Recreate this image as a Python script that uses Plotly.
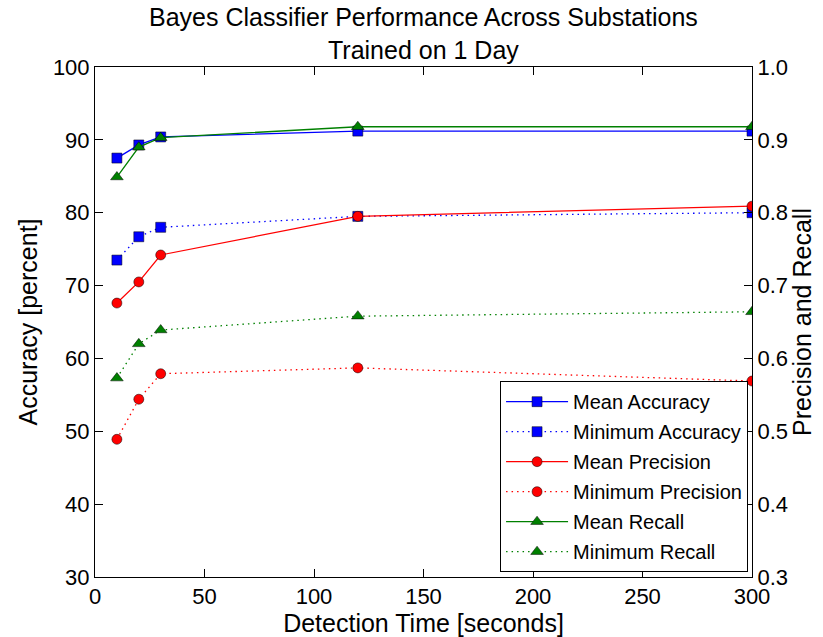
import plotly.graph_objects as go

detection_time = [10, 20, 30, 120, 300]

mean_accuracy = [87.5, 89.3, 90.4, 91.2, 91.2]
min_accuracy = [73.5, 76.7, 78.0, 79.5, 80.0]
mean_precision = [0.676, 0.705, 0.742, 0.795, 0.809]
min_precision = [0.489, 0.544, 0.579, 0.587, 0.569]
mean_recall = [0.849, 0.890, 0.903, 0.918, 0.918]
min_recall = [0.573, 0.620, 0.639, 0.658, 0.664]

BLUE = "#0000ff"
RED = "#ff0000"
GREEN = "#008000"
FONT = "Liberation Sans, Arial, sans-serif"

fig = go.Figure()

def add(name, y, color, symbol, dash, axis):
    fig.add_trace(go.Scatter(
        x=detection_time, y=y, name=name, mode="lines+markers",
        yaxis=axis, legendgroup=name,
        line=dict(color=color, width=1.3, dash=dash),
        marker=dict(symbol=symbol, size=10 if symbol != "triangle-up" else 11,
                    color=color, line=dict(color="black", width=0.5)),
    ))

DOTTED = "1.5px,4px"
add("Mean Accuracy", mean_accuracy, BLUE, "square", "solid", "y")
add("Minimum Accuracy", min_accuracy, BLUE, "square", DOTTED, "y")
add("Mean Precision", mean_precision, RED, "circle", "solid", "y2")
add("Minimum Precision", min_precision, RED, "circle", DOTTED, "y2")
add("Mean Recall", mean_recall, GREEN, "triangle-up", "solid", "y2")
add("Minimum Recall", min_recall, GREEN, "triangle-up", DOTTED, "y2")

axis_common = dict(
    showgrid=False, zeroline=False, showline=True, linecolor="black", linewidth=1,
    ticks="inside", ticklen=8, tickcolor="black", automargin=False,
    tickfont=dict(family=FONT, size=22, color="black"),
)

fig.update_layout(
    width=823, height=637,
    margin=dict(l=95, r=71, t=67, b=60),
    paper_bgcolor="white", plot_bgcolor="white",
    font=dict(family=FONT, color="black"),
    xaxis=dict(range=[0, 300], dtick=50, mirror="ticks", ticklabelstandoff=0,
               title=dict(text="Detection Time [seconds]", font=dict(family=FONT, size=25)),
               **axis_common),
    yaxis=dict(range=[30, 100], dtick=10,
               title=dict(text="Accuracy [percent]", font=dict(family=FONT, size=25), standoff=8),
               **axis_common),
    yaxis2=dict(range=[0.3, 1.0], dtick=0.1, tickformat=".1f", overlaying="y", side="right",
                title=dict(text="Precision and Recall", font=dict(family=FONT, size=25), standoff=4),
                **axis_common),
    legend=dict(
        x=0.994, xanchor="right", y=0.384, yanchor="top",
        bgcolor="white", bordercolor="black", borderwidth=1,
        font=dict(family=FONT, size=20, color="black"),
        itemwidth=62, tracegroupgap=1,
    ),
    showlegend=True,
    annotations=[dict(
        text="Bayes Classifier Performance Across Substations<br>Trained on 1 Day",
        xref="paper", yref="paper", x=0.5, y=1, xanchor="center", yanchor="bottom",
        yshift=1, showarrow=False,
        font=dict(family=FONT, size=25, color="black"),
    )],
)

fig.write_html("out.html")
